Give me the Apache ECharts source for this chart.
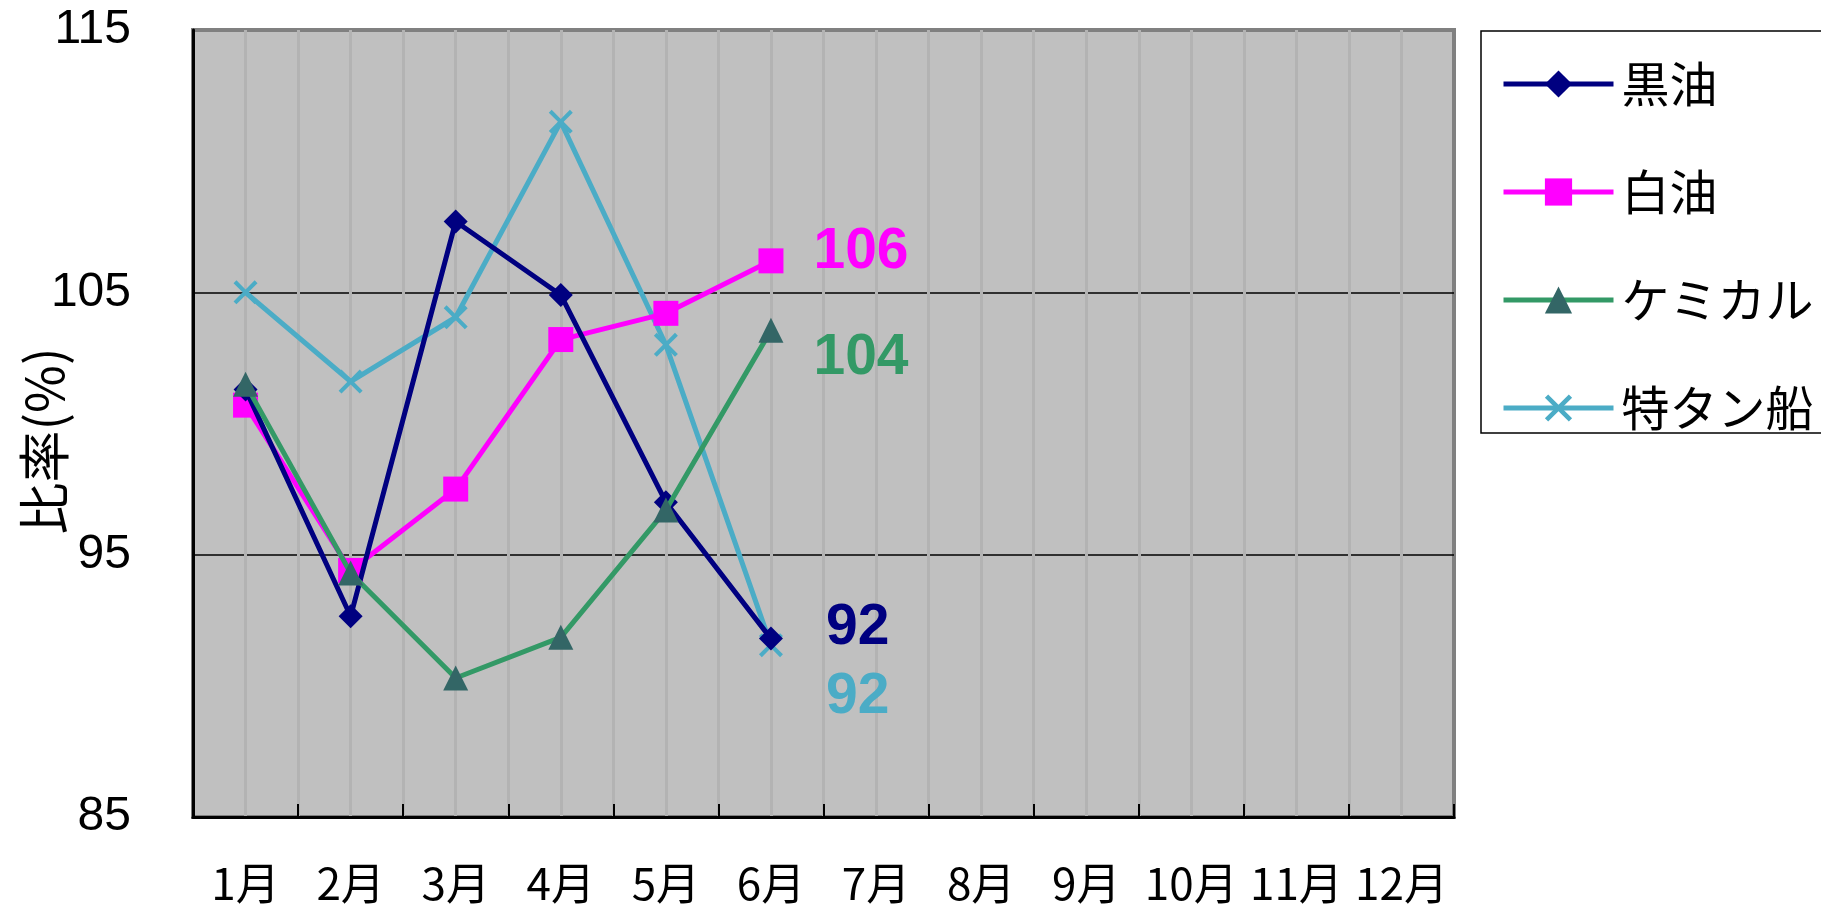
<!DOCTYPE html>
<html>
<head>
<meta charset="utf-8">
<script src="https://cdn.jsdelivr.net/npm/echarts@6/dist/echarts.min.js"></script>
<style>
html,body{margin:0;padding:0;background:#fff;}
#main{width:1821px;height:905px;}
</style>
</head>
<body>
<div id="main"></div>
<script>
const categories = ['1月','2月','3月','4月','5月','6月','7月','8月','9月','10月','11月','12月'];
const kuroyu = [101.3, 92.65, 107.7, 104.9, 97.0, 91.8];
const shiroyu = [100.7, 94.4, 97.5, 103.2, 104.2, 106.2];
const chemical = [101.5, 94.3, 90.3, 91.85, 96.7, 103.55];
const tokutan = [105.0, 101.6, 104.05, 111.5, 103.0, 91.55];
const yTicks = {min: 85, max: 115, interval: 10};

const crossPath = 'path://M0,1.2L1.2,0L5,3.8L8.8,0L10,1.2L6.2,5L10,8.8L8.8,10L5,6.2L1.2,10L0,8.8L3.8,5Z';
const labelFont = "'Liberation Sans Narrow','Liberation Sans',Arial,sans-serif";
const cjkFont = "'Noto Sans CJK JP',sans-serif";

function withEndLabel(arr, color, offset) {
  return arr.map((v, i) => {
    if (i !== arr.length - 1) return v;
    return {
      value: v,
      label: {
        show: true, position: 'right', distance: 5, offset: offset,
        formatter: () => String(Math.round(v)),
        color: color, fontSize: 57, fontWeight: 'bold', fontFamily: labelFont
      }
    };
  });
}

const chart = echarts.init(document.getElementById('main'));
chart.setOption({
  backgroundColor: '#ffffff',
  animation: false,
  grid: {
    left: 193, top: 30, right: 367, bottom: 86,
    show: true, backgroundColor: '#c0c0c0', borderColor: '#808080', borderWidth: 4
  },
  legend: {
    orient: 'vertical', left: 1481, top: 31,
    padding: [28, 300, 0, 20],
    itemWidth: 110, itemHeight: 34, itemGap: 58,
    backgroundColor: '#ffffff', borderColor: '#000000', borderWidth: 1.5,
    lineStyle: {width: 5},
    textStyle: {fontSize: 48, lineHeight: 50, color: '#000', fontFamily: cjkFont, padding: [0, 0, 0, 3]},
    data: ['黒油', '白油', 'ケミカル', '特タン船']
  },
  graphic: [{
    type: 'text', x: 44, y: 441, rotation: Math.PI / 2,
    style: {text: '比率(%)', fontSize: 52, fill: '#000', align: 'center', verticalAlign: 'middle',
      fontFamily: cjkFont}
  }],
  xAxis: [{
    type: 'category', data: categories, boundaryGap: true, z: 3,
    axisLine: {lineStyle: {color: '#000', width: 3}},
    axisTick: {show: true, inside: true, length: 13, interval: 0, lineStyle: {color: '#000', width: 2}},
    axisLabel: {interval: 0, margin: 44, fontSize: 44, color: '#000',
      fontFamily: "'Liberation Sans Narrow','Noto Sans CJK JP',sans-serif"},
    splitLine: {show: false}
  }, {
    type: 'value', min: 0, max: 24, interval: 1, position: 'bottom', z: 2,
    axisLine: {show: false}, axisTick: {show: false}, axisLabel: {show: false},
    splitLine: {show: true, showMinLine: false, showMaxLine: false, lineStyle: {color: '#b3b3b3', width: 3}}
  }],
  yAxis: {
    type: 'value', min: yTicks.min, max: yTicks.max, interval: yTicks.interval, z: 1,
    axisLine: {show: true, lineStyle: {color: '#000', width: 3}},
    axisTick: {show: false},
    axisLabel: {margin: 62, fontSize: 48, color: '#000', fontFamily: "'Liberation Sans',Arial,sans-serif"},
    splitLine: {show: true, showMinLine: false, showMaxLine: false, lineStyle: {color: '#000', width: 1.5}}
  },
  series: [{
    name: '黒油', type: 'line', xAxisIndex: 0, z: 5,
    data: withEndLabel(kuroyu, '#000080', [38, -10]),
    symbol: 'diamond', symbolSize: 24,
    lineStyle: {color: '#000080', width: 5}, itemStyle: {color: '#000080'}
  }, {
    name: '白油', type: 'line', xAxisIndex: 0, z: 4,
    data: withEndLabel(shiroyu, '#ff00ff', [25, -9]),
    symbol: 'rect', symbolSize: 25,
    lineStyle: {color: '#ff00ff', width: 5}, itemStyle: {color: '#ff00ff'}
  }, {
    name: 'ケミカル', type: 'line', xAxisIndex: 0, z: 6,
    data: withEndLabel(chemical, '#339966', [25, 28]),
    symbol: 'triangle', symbolSize: 25,
    lineStyle: {color: '#339966', width: 5}, itemStyle: {color: '#336666'}
  }, {
    name: '特タン船', type: 'line', xAxisIndex: 0, z: 3,
    data: withEndLabel(tokutan, '#4bacc6', [38, 52]),
    symbol: crossPath, symbolSize: 24,
    lineStyle: {color: '#4bacc6', width: 5}, itemStyle: {color: '#4bacc6'}
  }]
});
</script>
</body>
</html>
